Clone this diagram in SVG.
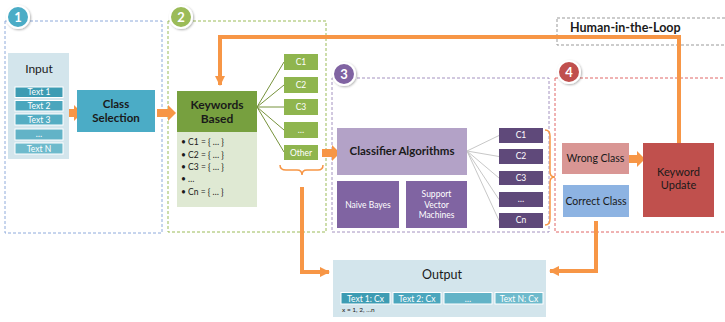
<svg xmlns="http://www.w3.org/2000/svg" width="725" height="322" viewBox="0 0 725 322">
<style>
text{font-family:Lato,"Open Sans","Liberation Sans",sans-serif;}
.zone{fill:none;stroke-width:1;stroke-dasharray:3 2;}
.badge{stroke:#fff;stroke-width:2;}
.badgeT{fill:#fff;font-size:13px;font-weight:bold;text-anchor:middle;}
.lbl{fill:#1a1a1a;text-anchor:middle;}
.wt{fill:#fff;font-size:8.5px;text-anchor:middle;}
.item{stroke:#fff;stroke-width:1;}
.or{fill:none;stroke:#f79646;stroke-width:4;}
.brace{fill:none;stroke:#f79646;stroke-width:1.5;}
.blk{fill:#f79646;}
</style>
<defs>
<marker id="ah" viewBox="0 0 10 10" refX="9" refY="5" markerWidth="2.6" markerHeight="2.6" orient="auto">
<path d="M0,0 L10,5 L0,10 z" fill="#f79646"/>
</marker>
<filter id="sh" x="-30%" y="-30%" width="160%" height="160%"><feDropShadow dx="1" dy="1" stdDeviation="1" flood-color="#000" flood-opacity="0.3"/></filter>
</defs>

<!-- zones -->
<g id="zone1">
<rect class="zone" x="5" y="21" width="157" height="212" stroke="#8eaadb"/>
<circle class="badge" cx="18" cy="17" r="11" fill="#4bacc6" filter="url(#sh)"/>
<text class="badgeT" x="18" y="22">1</text>
</g>
<g id="zone2">
<rect class="zone" x="168" y="21" width="158" height="211" stroke="#9bbb59"/>
<circle class="badge" cx="181" cy="17" r="11" fill="#9bbb59" filter="url(#sh)"/>
<text class="badgeT" x="181" y="22">2</text>
</g>
<g id="zone3">
<rect class="zone" x="332" y="78" width="217" height="154" stroke="#a492c0"/>
<circle class="badge" cx="344" cy="74" r="11" fill="#8064a2" filter="url(#sh)"/>
<text class="badgeT" x="344" y="79">3</text>
</g>
<g id="zone4">
<rect class="zone" x="555" y="78" width="180" height="154" stroke="#e06666"/>
<circle class="badge" cx="569" cy="72" r="11" fill="#c0504d" filter="url(#sh)"/>
<text class="badgeT" x="569" y="77">4</text>
</g>
<g id="hitl">
<rect class="zone" x="557" y="18" width="180" height="27" stroke="#999"/>
<text x="570" y="31.5" font-size="12.5" font-weight="bold" fill="#1a1a1a">Human-in-the-Loop</text>
</g>

<!-- connectors -->
<g id="connectors">
<path class="or" d="M679,143 V37 H220 V85" marker-end="url(#ah)"/>
<path class="or" d="M302,187 V272 H329" marker-end="url(#ah)"/>
<path class="or" d="M596,221 V271 H550" marker-end="url(#ah)"/>
<path class="brace" d="M280,165 Q280,170 286,170 H297 Q302,170 302,175 Q302,170 307,170 H318 Q323,170 323,165"/>
<path class="brace" d="M545,130 Q550,130 550,136 V172 Q550,177 555,177 Q550,177 550,182 V219 Q550,225 545,225"/>
<path class="blk" d="M64,109 H74 V105 L82,113 L74,121 V117 H64 z"/>
<path class="blk" d="M157,109 H168 V105 L176,113 L168,121 V117 H157 z"/>
<path class="blk" d="M322,149 H332 V145 L340,153 L332,161 V157 H322 z"/>
<path class="blk" d="M629,155 H637 V151 L645,159 L637,167 V163 H629 z"/>
<g stroke="#77933c" stroke-width="1">
<line x1="257" y1="107" x2="284" y2="62"/>
<line x1="257" y1="107" x2="284" y2="85"/>
<line x1="257" y1="107" x2="284" y2="107"/>
<line x1="257" y1="107" x2="284" y2="130"/>
<line x1="257" y1="107" x2="284" y2="152"/>
</g>
<g stroke="#c8c8c8" stroke-width="1">
<line x1="467" y1="151" x2="499" y2="135.5"/>
<line x1="467" y1="151" x2="499" y2="156.5"/>
<line x1="467" y1="151" x2="499" y2="178"/>
<line x1="467" y1="151" x2="499" y2="199.5"/>
<line x1="467" y1="151" x2="499" y2="220.5"/>
</g>
</g>

<!-- nodes -->
<g id="input">
<rect x="8" y="53" width="61" height="106" fill="#d3e5ec"/>
<text class="lbl" x="39" y="73" font-size="12">Input</text>
<rect class="item" x="15" y="87" width="48" height="10.5" fill="#3d9cb3"/>
<rect class="item" x="15" y="100.5" width="48" height="10.5" fill="#4aa6bd"/>
<rect class="item" x="15" y="114" width="48" height="11" fill="#55adc3"/>
<rect class="item" x="15" y="129" width="48" height="11" fill="#62b3c7"/>
<rect class="item" x="15" y="143" width="48" height="11" fill="#6ebacc"/>
<text class="wt" x="39" y="95" font-size="8">Text 1</text>
<text class="wt" x="39" y="108.5" font-size="8">Text 2</text>
<text class="wt" x="39" y="122.5" font-size="8">Text 3</text>
<text class="wt" x="39" y="137" font-size="8">…</text>
<text class="wt" x="39" y="151.5" font-size="8">Text N</text>
</g>
<g id="class-selection">
<rect x="77" y="90" width="78" height="42" fill="#4bacc6"/>
<text class="lbl" x="116" y="108" font-size="11.5" font-weight="bold">Class</text>
<text class="lbl" x="116" y="121.5" font-size="11.5" font-weight="bold">Selection</text>
</g>
<g id="keywords">
<rect x="177" y="132" width="80" height="75" fill="#dfe9d3"/>
<rect x="177" y="91" width="80" height="41" fill="#77a03f"/>
<text class="lbl" x="217" y="109" font-size="12" font-weight="bold">Keywords</text>
<text class="lbl" x="217" y="122.5" font-size="12" font-weight="bold">Based</text>
<g font-size="8.5" fill="#1a1a1a">
<text x="181" y="145">• C1 = { … }</text>
<text x="181" y="158">• C2 = { … }</text>
<text x="181" y="170">• C3 = { … }</text>
<text x="181" y="182">• …</text>
<text x="181" y="195">• Cn = { … }</text>
</g>
</g>
<g id="kw-classes">
<rect x="284" y="54" width="34" height="16" fill="#8fb54e"/>
<rect x="284" y="77" width="34" height="16" fill="#8fb54e"/>
<rect x="284" y="99" width="34" height="16" fill="#8fb54e"/>
<rect x="284" y="122" width="34" height="16" fill="#8fb54e"/>
<rect x="284" y="145" width="34" height="15" fill="#8fb54e"/>
<text class="wt" x="301" y="65">C1</text>
<text class="wt" x="301" y="88">C2</text>
<text class="wt" x="301" y="110">C3</text>
<text class="wt" x="301" y="133">…</text>
<text class="wt" x="301" y="155.5">Other</text>
</g>
<g id="classifier">
<rect x="337" y="128" width="130" height="47" fill="#b3a2c7"/>
<text class="lbl" x="402" y="155" font-size="11.5" font-weight="bold">Classifier Algorithms</text>
</g>
<g id="naive-bayes">
<rect x="337" y="181" width="62" height="47" fill="#8064a2"/>
<text class="wt" x="368" y="207.5" font-size="9">Naive Bayes</text>
</g>
<g id="svm">
<rect x="406" y="181" width="61" height="47" fill="#8064a2"/>
<text class="wt" x="436.5" y="197" font-size="9">Support</text>
<text class="wt" x="436.5" y="207.5" font-size="9">Vector</text>
<text class="wt" x="436.5" y="218" font-size="9">Machines</text>
</g>
<g id="cl-classes">
<rect x="499" y="128" width="44" height="15" fill="#5f497a"/>
<rect x="499" y="149" width="44" height="15" fill="#5f497a"/>
<rect x="499" y="171" width="44" height="14" fill="#5f497a"/>
<rect x="499" y="192" width="44" height="15" fill="#5f497a"/>
<rect x="499" y="213" width="44" height="15" fill="#5f497a"/>
<text class="wt" x="521" y="138">C1</text>
<text class="wt" x="521" y="159">C2</text>
<text class="wt" x="521" y="180.5">C3</text>
<text class="wt" x="521" y="202">…</text>
<text class="wt" x="521" y="223">Cn</text>
</g>
<g id="wrong-class">
<rect x="562" y="143" width="67" height="31" fill="#d99694"/>
<text class="lbl" x="595.5" y="162" font-size="10.5">Wrong Class</text>
</g>
<g id="correct-class">
<rect x="563" y="185" width="66" height="32" fill="#8db3e2"/>
<text class="lbl" x="596" y="204.5" font-size="10.5">Correct Class</text>
</g>
<g id="keyword-update">
<rect x="643" y="143" width="71" height="74" fill="#c0504d"/>
<text class="lbl" x="678.5" y="176" font-size="11">Keyword</text>
<text class="lbl" x="678.5" y="189" font-size="11">Update</text>
</g>
<g id="output">
<rect x="333" y="260" width="213" height="57" fill="#d3e5ec"/>
<text class="lbl" x="442" y="279" font-size="12.5">Output</text>
<rect class="item" x="341" y="292.5" width="49" height="11.5" fill="#3d9cb3"/>
<rect class="item" x="393" y="292.5" width="48" height="11.5" fill="#4aa6bd"/>
<rect class="item" x="444" y="292.5" width="48" height="11.5" fill="#62b3c7"/>
<rect class="item" x="495" y="292.5" width="48" height="11.5" fill="#6ebacc"/>
<text class="wt" x="365.5" y="301.5">Text 1: Cx</text>
<text class="wt" x="417" y="301.5">Text 2: Cx</text>
<text class="wt" x="468" y="301.5">…</text>
<text class="wt" x="519" y="301.5">Text N: Cx</text>
<text x="342" y="312" font-size="6.5" fill="#1a1a1a">x = 1, 2, …n</text>
</g>
</svg>
